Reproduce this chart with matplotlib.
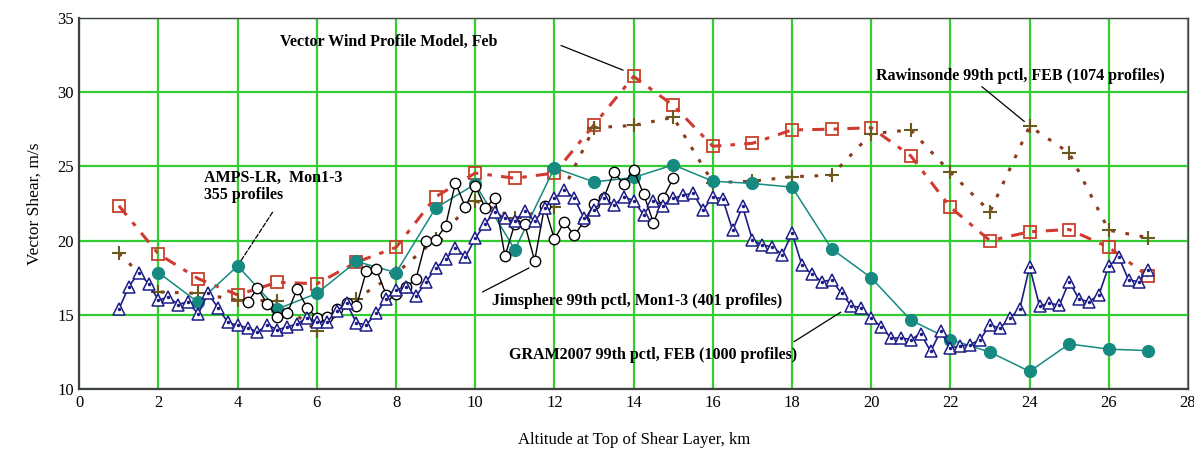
import numpy as np
import matplotlib
matplotlib.use("Agg")
import matplotlib.pyplot as plt

# altitude (km) for the series sampled at whole km
alt_km = list(range(1, 28))

# Vector Wind Profile Model, Feb
vwpm = [22.35, 19.1, 17.45, 16.35, 17.2, 17.1, 18.55, 19.55, 22.95, 24.55,
        24.2, 24.55, 27.8, 31.05, 29.1, 26.35, 26.55, 27.45, 27.5, 27.6,
        25.7, 22.25, 20.0, 20.6, 20.75, 19.55, 17.6]

# Rawinsonde 99th pctl, FEB
rawin = [19.15, 16.55, 16.45, 16.0, 15.95, 13.95, 16.1, 17.8, 20.1, 22.7,
         21.5, 22.25, 27.6, 27.75, 28.3, 23.9, 24.0, 24.3, 24.4, 27.2,
         27.45, 24.6, 21.95, 27.7, 25.9, 20.7, 20.2]

# AMPS-LR, Mon1-3 (starts at 2 km)
amps_alt = list(range(2, 28))
amps = [17.85, 15.85, 18.3, 15.4, 16.45, 18.6, 17.85, 22.2, 23.8, 19.4,
        24.9, 23.95, 24.25, 25.1, 24.0, 23.85, 23.6, 19.45, 17.5, 14.65,
        13.35, 12.5, 11.2, 13.05, 12.7, 12.6]

# Jimsphere 99th pctl, Mon1-3, every 0.25 km from 4.25 to 15 km
jim_alt = np.arange(4.25, 15.01, 0.25)
jim = [15.85, 16.8, 15.75, 14.85, 15.1, 16.75, 15.5, 14.8, 14.85, 15.4,
       15.8, 15.6, 17.95, 18.1, 16.35, 16.4, 16.9, 17.4, 19.95, 20.05,
       21.0, 23.9, 22.25, 23.7, 22.2, 22.85, 18.95, 21.15, 21.1, 18.65,
       22.3, 20.1, 21.25, 20.35, 21.3, 22.5, 22.9, 24.6, 23.8, 24.75,
       23.15, 21.2, 22.9, 24.2]

# GRAM2007 99th pctl, FEB, every 0.25 km from 1 to 27 km
gram_alt = np.arange(1.0, 27.01, 0.25)
gram = [15.4, 16.9, 17.85, 17.1, 16.0, 16.2, 15.7, 15.9, 15.05, 16.45,
        15.5, 14.5, 14.3, 14.15, 13.85, 14.35, 14.0, 14.2, 14.4, 14.8,
        14.55, 14.5, 15.25, 15.8, 14.45, 14.35, 15.1, 16.1, 16.7, 16.9,
        16.25, 17.2, 18.15, 18.75, 19.5, 18.9, 20.15, 21.15, 21.95, 21.5,
        21.3, 22.0, 21.3, 22.2, 22.85, 23.4, 22.85, 21.5, 22.05, 22.85,
        22.4, 22.95, 22.7, 21.75, 22.7, 22.35, 22.85, 23.05, 23.2, 22.05,
        22.95, 22.8, 20.7, 22.3, 20.05, 19.7, 19.6, 19.05, 20.5, 18.35,
        17.75, 17.25, 17.35, 16.45, 15.6, 15.5, 14.8, 14.2, 13.45, 13.45,
        13.35, 13.75, 12.55, 13.9, 12.8, 12.9, 13.0, 13.35, 14.35, 14.1,
        14.8, 15.4, 18.25, 15.6, 15.8, 15.65, 17.25, 16.05, 15.9, 16.35,
        18.3, 18.9, 17.35, 17.25, 18.05]

x_ticks = list(range(0, 29, 2))
y_ticks = [10, 15, 20, 25, 30, 35]

SERIF = ["Liberation Serif", "DejaVu Serif"]

fig = plt.figure(figsize=(11.94, 4.53), dpi=100)
W, H = 1194, 453
ax = fig.add_axes([79.3 / W, 1 - 389.3 / H, (1188 - 79.3) / W, (389.3 - 17.7) / H])
ax.set_xlim(0, 28)
ax.set_ylim(10, 35)

ax.set_xticks(x_ticks)
ax.set_yticks(y_ticks)
ax.set_xticklabels([str(t) for t in x_ticks], family=SERIF, fontsize=12)
ax.set_yticklabels([str(t) for t in y_ticks], family=SERIF, fontsize=12)
ax.tick_params(length=0, pad=4)
ax.grid(True, color="#33cc33", linewidth=1.6)
ax.set_axisbelow(True)
for side, sp in ax.spines.items():
    sp.set_color("#404040")
    sp.set_linewidth(1.6 if side in ("left", "bottom") else 1.0)

ax.plot(alt_km, vwpm, color="#d03a30", linestyle=(0, (4, 3, 1.5, 3)), linewidth=2.2,
        marker="s", markersize=8, markerfacecolor="none", markeredgecolor="#c8402a",
        markeredgewidth=1.3, zorder=2)
ax.plot(alt_km, rawin, color="#8b3a1a", linestyle=(0, (1.2, 3.5)), linewidth=2.2,
        marker="+", markersize=10, markeredgecolor="#6b5a1e", markeredgewidth=1.5,
        zorder=3)
ax.plot(amps_alt, amps, color="#168a80", linewidth=1.1,
        marker="o", markersize=8.5, markerfacecolor="#168a80",
        markeredgecolor="#168a80", zorder=4)
ax.plot(jim_alt, jim, color="black", linewidth=1.0,
        marker="o", markersize=7.5, markerfacecolor="white",
        markeredgecolor="black", markeredgewidth=1.0, zorder=5)
ax.plot(gram_alt, gram, color="#1c1c88", linewidth=1.2,
        marker="^", markersize=8, markerfacecolor="white",
        markeredgecolor="#1c1c88", markeredgewidth=1.1, zorder=6)
ax.plot(gram_alt, gram, linestyle="none", marker=".", markersize=3,
        color="#1c1c88", zorder=7)

ax.set_ylabel("Vector Shear, m/s", family=SERIF, fontsize=12.5, labelpad=10)
ax.set_xlabel("Altitude at Top of Shear Layer, km", family=SERIF, fontsize=12, labelpad=15)

txt = dict(family=SERIF, fontsize=11.5, fontweight="bold", zorder=10)
line = dict(arrowstyle="-", color="black", linewidth=0.9)

ax.text(5.07, 33.37, "Vector Wind Profile Model, Feb", ha="left", va="center", **txt)
ax.annotate("", xy=(13.8, 31.4), xytext=(12.1, 33.2), arrowprops=line, zorder=10)

ax.text(27.42, 31.08, "Rawinsonde 99th pctl, FEB (1074 profiles)", ha="right", va="center", **txt)
ax.annotate("", xy=(23.92, 27.9), xytext=(22.74, 30.48), arrowprops=line, zorder=10)

ax.text(3.15, 23.65, "AMPS-LR,  Mon1-3\n355 profiles", ha="left", va="center",
        linespacing=1.05, **txt)
ax.annotate("", xy=(4.04, 18.48), xytext=(4.92, 22.07),
            arrowprops=dict(line, linestyle="--"), zorder=10)

ax.text(17.76, 15.94, "Jimsphere 99th pctl, Mon1-3 (401 profiles)", ha="right", va="center", **txt)
ax.annotate("", xy=(11.42, 18.25), xytext=(10.12, 16.46), arrowprops=line, zorder=10)

ax.text(18.12, 12.31, "GRAM2007 99th pctl, FEB (1000 profiles)", ha="right", va="center", **txt)
ax.annotate("", xy=(19.29, 15.29), xytext=(17.99, 13.1), arrowprops=line, zorder=10)

fig.savefig("out.png", dpi=100)
